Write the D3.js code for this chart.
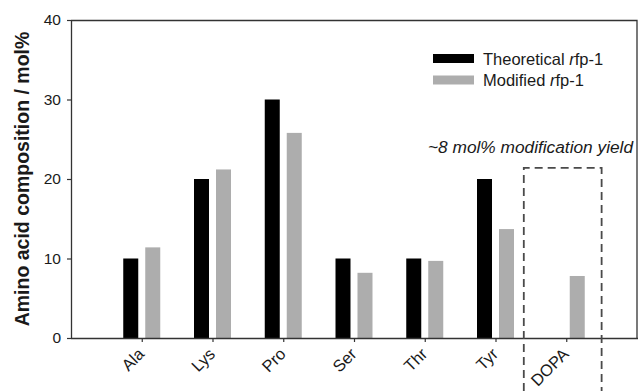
<!DOCTYPE html>
<html>
<head>
<meta charset="utf-8">
<script src="https://cdn.jsdelivr.net/npm/d3@7"></script>
<style>
  html, body { margin: 0; padding: 0; background: #fff; }
  svg { display: block; font-family: "Liberation Sans", Arial, sans-serif; }
</style>
</head>
<body>
<svg id="chart" width="638" height="391"></svg>
<script>
// Amino acid composition of rfp-1 (mol%)
const categories = ["Ala", "Lys", "Pro", "Ser", "Thr", "Tyr", "DOPA"];
const seriesNames = ["Theoretical", "Modified"];
const theoretical = [10, 20, 30, 10, 10, 20, 0];
const modified = [11.4, 21.2, 25.8, 8.2, 9.7, 13.7, 7.8];
const yTicks = [0, 10, 20, 30, 40];
const seriesColors = ["#000000", "#adadad"];

(function () {
const svg = d3.select("#chart");
const W = 638, H = 391;
const plotLeft = 71, plotRight = 637, plotTop = 20, plotBottom = 338;
const axisColor = "#333";
const textColor = "#1a1a1a";

const x = d3.scalePoint().domain(categories).range([plotLeft, plotRight]).padding(1);
const xs = d3.scaleBand().domain(seriesNames).range([-18.5, 18.5]).paddingInner(0.318);
const y = d3.scaleLinear().domain([0, 40]).range([plotBottom, plotTop]);

// bars
const rows = categories.map((c, i) => ({ cat: c, vals: [theoretical[i], modified[i]] }));
const groups = svg.append("g").selectAll("g").data(rows).join("g")
  .attr("transform", d => `translate(${x(d.cat)},0)`);
groups.selectAll("rect")
  .data(d => d.vals.map((v, j) => ({ name: seriesNames[j], v, j })).filter(e => e.v > 0))
  .join("rect")
  .attr("x", e => xs(e.name))
  .attr("width", xs.bandwidth())
  .attr("y", e => y(e.v))
  .attr("height", e => y(0) - y(e.v))
  .attr("fill", e => seriesColors[e.j]);

// y axis
const yAxis = svg.append("g")
  .attr("transform", `translate(${plotLeft},0)`)
  .call(d3.axisLeft(y).tickValues(yTicks).tickSize(4).tickPadding(6).tickSizeOuter(0));
yAxis.select(".domain").attr("stroke", axisColor).attr("stroke-width", 1.3);
yAxis.selectAll(".tick line").attr("stroke", axisColor).attr("stroke-width", 1.2);
yAxis.selectAll(".tick text").attr("font-size", 15.5).attr("fill", textColor)
  .attr("font-family", "Liberation Sans, Arial, sans-serif");

// x axis
const xAxis = svg.append("g")
  .attr("transform", `translate(0,${plotBottom})`)
  .call(d3.axisBottom(x).tickSize(4).tickSizeOuter(0));
xAxis.select(".domain").attr("stroke", axisColor).attr("stroke-width", 1.3)
  .attr("d", `M${plotLeft},0.5H${W}`);
xAxis.selectAll(".tick line").attr("stroke", axisColor).attr("stroke-width", 1.2);
xAxis.selectAll(".tick text")
  .attr("font-size", 16.5).attr("fill", textColor)
  .attr("font-family", "Liberation Sans, Arial, sans-serif")
  .attr("text-anchor", "end")
  .attr("x", 0).attr("y", 0).attr("dy", "0.35em")
  .attr("transform", "translate(-1,13) rotate(-45)");

// frame top and right
svg.append("path")
  .attr("d", `M${plotLeft},${plotTop + 0.5}H${plotRight}V${plotBottom}`)
  .attr("fill", "none").attr("stroke", axisColor).attr("stroke-width", 1.3);

// dashed box around the DOPA group
const step = x.step();
const boxL = x("DOPA") - 0.6 * step;
const boxR = x("DOPA") + 0.5 * step;
const boxTop = y(21.4);
svg.append("path")
  .attr("d", `M${boxL},${H}V${boxTop}H${boxR}V${H}`)
  .attr("fill", "none").attr("stroke", "#4a4a4a").attr("stroke-width", 1.8)
  .attr("stroke-dasharray", "8,5");

svg.append("text")
  .attr("x", 428).attr("y", 153)
  .attr("font-size", 17.3).attr("font-style", "italic").attr("fill", textColor)
  .text("~8 mol% modification yield");

// y axis title
svg.append("text")
  .attr("transform", `translate(29,${(plotTop + plotBottom) / 2}) rotate(-90)`)
  .attr("text-anchor", "middle")
  .attr("font-size", 19.5).attr("font-weight", "bold").attr("fill", textColor)
  .text("Amino acid composition / mol%");

// legend
const legendLabels = [["Theoretical ", "r", "fp-1"], ["Modified ", "r", "fp-1"]];
const lg = svg.append("g").attr("transform", "translate(433,54)");
legendLabels.forEach((parts, i) => {
  const g = lg.append("g").attr("transform", `translate(0,${i * 21.5})`);
  g.append("rect").attr("width", 41).attr("height", 9).attr("fill", seriesColors[i]);
  const t = g.append("text").attr("x", 50).attr("y", 10.8)
    .attr("font-size", 16.5).attr("fill", textColor);
  t.append("tspan").text(parts[0]);
  t.append("tspan").attr("font-style", "italic").text(parts[1]);
  t.append("tspan").text(parts[2]);
});
})();
</script>
</body>
</html>
